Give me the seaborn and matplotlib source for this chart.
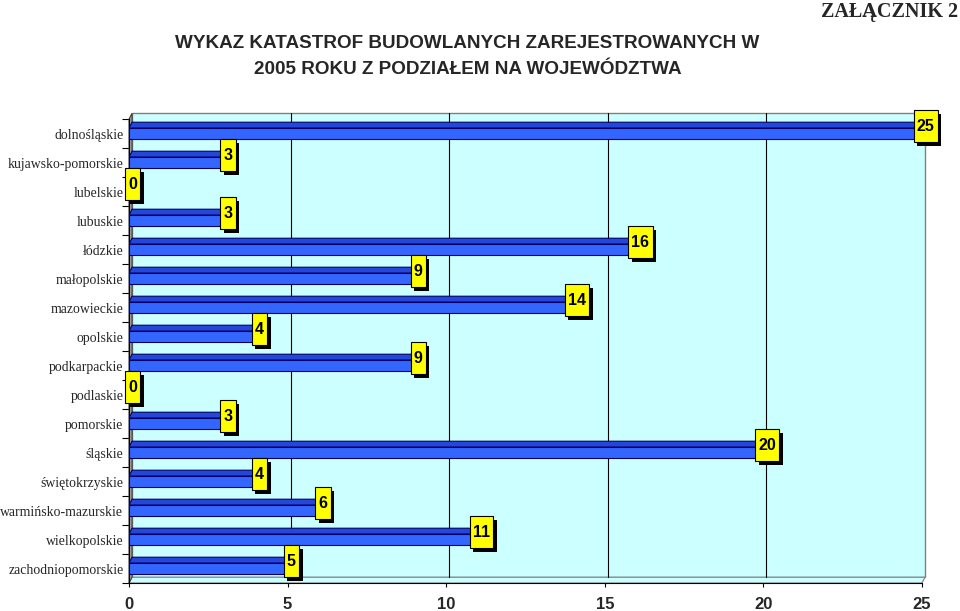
import matplotlib
matplotlib.use("Agg")
import matplotlib.pyplot as plt
import matplotlib.patheffects as pe
import seaborn as sns
from matplotlib.patches import Polygon
from matplotlib.path import Path

regions = [
    "dolnośląskie", "kujawsko-pomorskie", "lubelskie", "lubuskie", "łódzkie",
    "małopolskie", "mazowieckie", "opolskie", "podkarpackie", "podlaskie",
    "pomorskie", "śląskie", "świętokrzyskie", "warmińsko-mazurskie",
    "wielkopolskie", "zachodniopomorskie",
]
counts = [25, 3, 0, 3, 16, 9, 14, 4, 9, 0, 3, 20, 4, 6, 11, 5]
x_ticks = [0, 5, 10, 15, 20, 25]

sns.set_style("white")
plt.rcParams["font.family"] = ["Liberation Sans", "DejaVu Sans"]

CYAN = "#CCFFFF"


def tall_box(x0, y0, width, height, mutation_size):
    # yellow label box: narrow sides, tall top/bottom padding
    px, py = 0.2 * mutation_size, 0.52 * mutation_size
    return Path([(x0 - px, y0 - py), (x0 + width + px, y0 - py),
                 (x0 + width + px, y0 + height + py), (x0 - px, y0 + height + py),
                 (x0 - px, y0 - py)], closed=True)


fig = plt.figure(figsize=(9.6, 6.11), dpi=100)
ax = fig.add_axes([0.1344, 0.0458, 0.826, 0.7594])
ax.set_facecolor(CYAN)

sns.barplot(x=counts, y=regions, orient="h", color="#3366FF", width=0.38,
            saturation=1, edgecolor="#000066", linewidth=0.8, ax=ax, zorder=3)
bars = list(ax.patches)

ax.set_xlim(0, 25)
ax.set_ylim(15.5, -0.5)

# depth of the pseudo 3D box (data units)
wx, wy = 0.095, 0.2
lo, hi = -0.5, 15.5

back = Polygon([(wx, lo - wy), (25 + wx, lo - wy), (25 + wx, hi - wy), (wx, hi - wy)],
               facecolor=CYAN, edgecolor="#808080", lw=1.0, zorder=0, clip_on=False)
ax.add_patch(back)
floor = Polygon([(0, hi), (25, hi), (25 + wx, hi - wy), (wx, hi - wy)],
                facecolor=CYAN, edgecolor="#808080", lw=0.8, zorder=1, clip_on=False)
ax.add_patch(floor)
wall = Polygon([(0, lo), (wx, lo - wy), (wx, hi - wy), (0, hi)],
               facecolor="#A0A0A0", edgecolor="#404040", lw=0.8, zorder=2,
               clip_on=False)
ax.add_patch(wall)
for t in x_ticks[1:-1]:
    ax.plot([t + wx, t + wx], [lo - wy, hi - wy], color="black", lw=0.8,
            zorder=1, clip_on=False)

# bar tops and ends
for p in bars:
    x0, yt = p.get_x(), p.get_y()
    if p.get_width() <= 0:
        continue
    yb = yt + p.get_height()
    x1 = x0 + p.get_width()
    top = Polygon([(x0, yt), (x1, yt), (x1 + wx, yt - wy), (x0 + wx, yt - wy)],
                  facecolor="#2547D9", edgecolor="#000066", lw=0.8, zorder=3)
    side = Polygon([(x1, yt), (x1 + wx, yt - wy), (x1 + wx, yb - wy), (x1, yb)],
                   facecolor="#1A33AA", edgecolor="#000066", lw=0.8, zorder=3)
    ax.add_patch(top)
    ax.add_patch(side)

# value labels, yellow box with black drop shadow
for i, v in enumerate(counts):
    t = ax.text(v + 0.12, i - 0.25, str(v), ha="center", va="center",
                fontsize=11.5, fontweight="bold", color="black", zorder=6,
                clip_on=False,
                bbox=dict(boxstyle=tall_box, fc="#FFFF00", ec="black", lw=0.8))
    t.get_bbox_patch().set_path_effects([
        pe.SimplePatchShadow(offset=(2.5, -2.5), shadow_rgbFace="black", alpha=1.0),
        pe.Normal()])

ax.set_xticks(x_ticks)
ax.set_xticklabels([str(t) for t in x_ticks], fontsize=12, fontweight="bold")
ax.tick_params(axis="x", length=3, width=0.8, color="black", direction="out",
               bottom=True, pad=7)
ax.set_yticks([i + 0.5 for i in range(-1, 16)], minor=True)
ax.tick_params(axis="y", which="major", length=0, pad=4)
ax.tick_params(axis="y", which="minor", length=5, width=0.8, color="black",
               direction="out", left=True)
for lab in ax.get_yticklabels():
    lab.set_fontfamily(["Liberation Serif", "DejaVu Serif"])
    lab.set_fontsize(9.9)
ax.set_xlabel("")
ax.set_ylabel("")
for s in ax.spines.values():
    s.set_color("black")
    s.set_linewidth(0.8)
ax.spines["top"].set_visible(False)
ax.spines["right"].set_visible(False)

fig.text(0.487, 0.907, "WYKAZ KATASTROF BUDOWLANYCH ZAREJESTROWANYCH W\n2005 ROKU Z PODZIAŁEM NA WOJEWÓDZTWA",
         ha="center", va="center", fontsize=13.6, fontweight="bold",
         linespacing=1.7)
fig.text(0.998, 0.997, "ZAŁĄCZNIK 2", ha="right", va="top", fontsize=14.5,
         fontweight="bold", family=["Liberation Serif", "DejaVu Serif"])

fig.savefig("out.png", dpi=100)
plt.close(fig)
